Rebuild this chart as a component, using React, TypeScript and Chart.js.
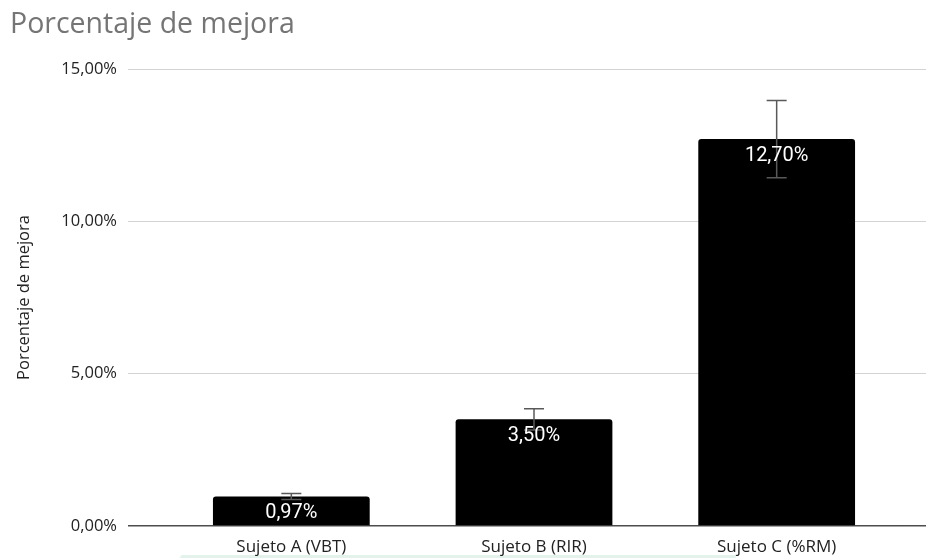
import React, { useEffect, useRef } from "react";
import { Chart, registerables } from "chart.js";

Chart.register(...registerables);

const categories = ["Sujeto A (VBT)", "Sujeto B (RIR)", "Sujeto C (%RM)"];
const mejora = [0.97, 3.5, 12.7];
const errores = [0.097, 0.35, 1.27];
const yTicks = [0, 5, 10, 15];
const chartTitle = "Porcentaje de mejora";
const yTitle = "Porcentaje de mejora";

const fmt = (v: number) => v.toFixed(2).replace(".", ",") + "%";

const GRID = "#d3d3d3";
const ZERO = "#4d4d4d";

const overlayPlugin = {
  id: "overlay",
  afterDatasetsDraw(chart: any) {
    const ctx = chart.ctx;
    const meta = chart.getDatasetMeta(0);
    const y = chart.scales.y;
    ctx.save();
    meta.data.forEach((bar: any, i: number) => {
      const v = mejora[i];
      const e = errores[i];
      const top = y.getPixelForValue(v + e);
      const bot = y.getPixelForValue(v - e);
      ctx.strokeStyle = "#595959";
      ctx.lineWidth = 1.5;
      ctx.beginPath();
      ctx.moveTo(bar.x, top);
      ctx.lineTo(bar.x, bot);
      ctx.moveTo(bar.x - 10, top);
      ctx.lineTo(bar.x + 10, top);
      ctx.moveTo(bar.x - 10, bot);
      ctx.lineTo(bar.x + 10, bot);
      ctx.stroke();
    });
    ctx.fillStyle = "#ffffff";
    ctx.font = "20px Roboto";
    ctx.textAlign = "center";
    ctx.textBaseline = "middle";
    meta.data.forEach((bar: any, i: number) => {
      ctx.fillText(fmt(mejora[i]), bar.x, bar.y + 17);
    });
    ctx.restore();
  },
};

export default function App() {
  const ref = useRef<HTMLCanvasElement>(null);
  useEffect(() => {
    const gridColor = (c: any) => (c.tick && c.tick.value === 0 ? ZERO : GRID);
    const gridWidth = (c: any) => (c.tick && c.tick.value === 0 ? 1.5 : 1);
    const chart = new Chart(ref.current!, {
      type: "bar",
      data: {
        labels: categories,
        datasets: [
          {
            data: mejora,
            backgroundColor: "#000000",
            borderRadius: 3,
            borderSkipped: "start",
            barPercentage: 0.646,
            categoryPercentage: 1,
          },
        ],
      },
      plugins: [overlayPlugin],
      options: {
        animation: false,
        responsive: false,
        maintainAspectRatio: false,
        layout: { padding: { left: 10, right: 0, top: 0, bottom: 0 } },
        plugins: {
          legend: { display: false },
          tooltip: { enabled: false },
          title: {
            display: true,
            text: chartTitle,
            align: "start",
            color: "#757575",
            font: { family: "'Open Sans'", size: 28.5, weight: "normal" },
            padding: { top: 8, bottom: 26.8 },
          },
        },
        scales: {
          x: {
            grid: { display: false },
            border: { display: false },
            ticks: {
              color: "#222222",
              font: { family: "'Open Sans'", size: 17 },
              padding: 3,
            },
            afterFit: (s: any) => {
              s.height = 32;
            },
          },
          y: {
            min: 0,
            max: 15,
            afterBuildTicks: (s: any) => {
              s.ticks = yTicks.map((v) => ({ value: v }));
            },
            border: { display: false },
            grid: {
              color: gridColor,
              lineWidth: gridWidth,
              drawTicks: true,
              tickLength: 42,
            },
            ticks: {
              color: "#222222",
              font: { family: "'Open Sans'", size: 16.5 },
              padding: 11,
              callback: (v: any) => fmt(Number(v)),
            },
            title: {
              display: true,
              text: yTitle,
              color: "#222222",
              font: { family: "'Open Sans'", size: 16.5 },
              padding: { top: 4, bottom: 0 },
            },
            afterFit: (s: any) => {
              s.width = 160;
            },
          },
          y2: {
            position: "right",
            min: 0,
            max: 15,
            afterBuildTicks: (s: any) => {
              s.ticks = yTicks.map((v) => ({ value: v }));
            },
            border: { display: false },
            grid: {
              color: gridColor,
              lineWidth: gridWidth,
              drawOnChartArea: false,
              drawTicks: true,
              tickLength: 28,
            },
            ticks: { padding: 0, callback: () => "" },
            afterFit: (s: any) => {
              s.width = 28;
            },
          },
        },
      } as any,
    });
    return () => chart.destroy();
  }, []);
  return (
    <div style={{ position: "fixed", left: 0, top: 0, width: 926, height: 558, background: "#fff" }}>
      <div
        style={{
          position: "absolute",
          left: 180,
          top: 555,
          width: 556,
          height: 3,
          background: "#e3f3ec",
          borderRadius: "3px 3px 0 0",
        }}
      />
      <canvas ref={ref} width={926} height={558} style={{ display: "block", position: "relative" }} />
    </div>
  );
}
